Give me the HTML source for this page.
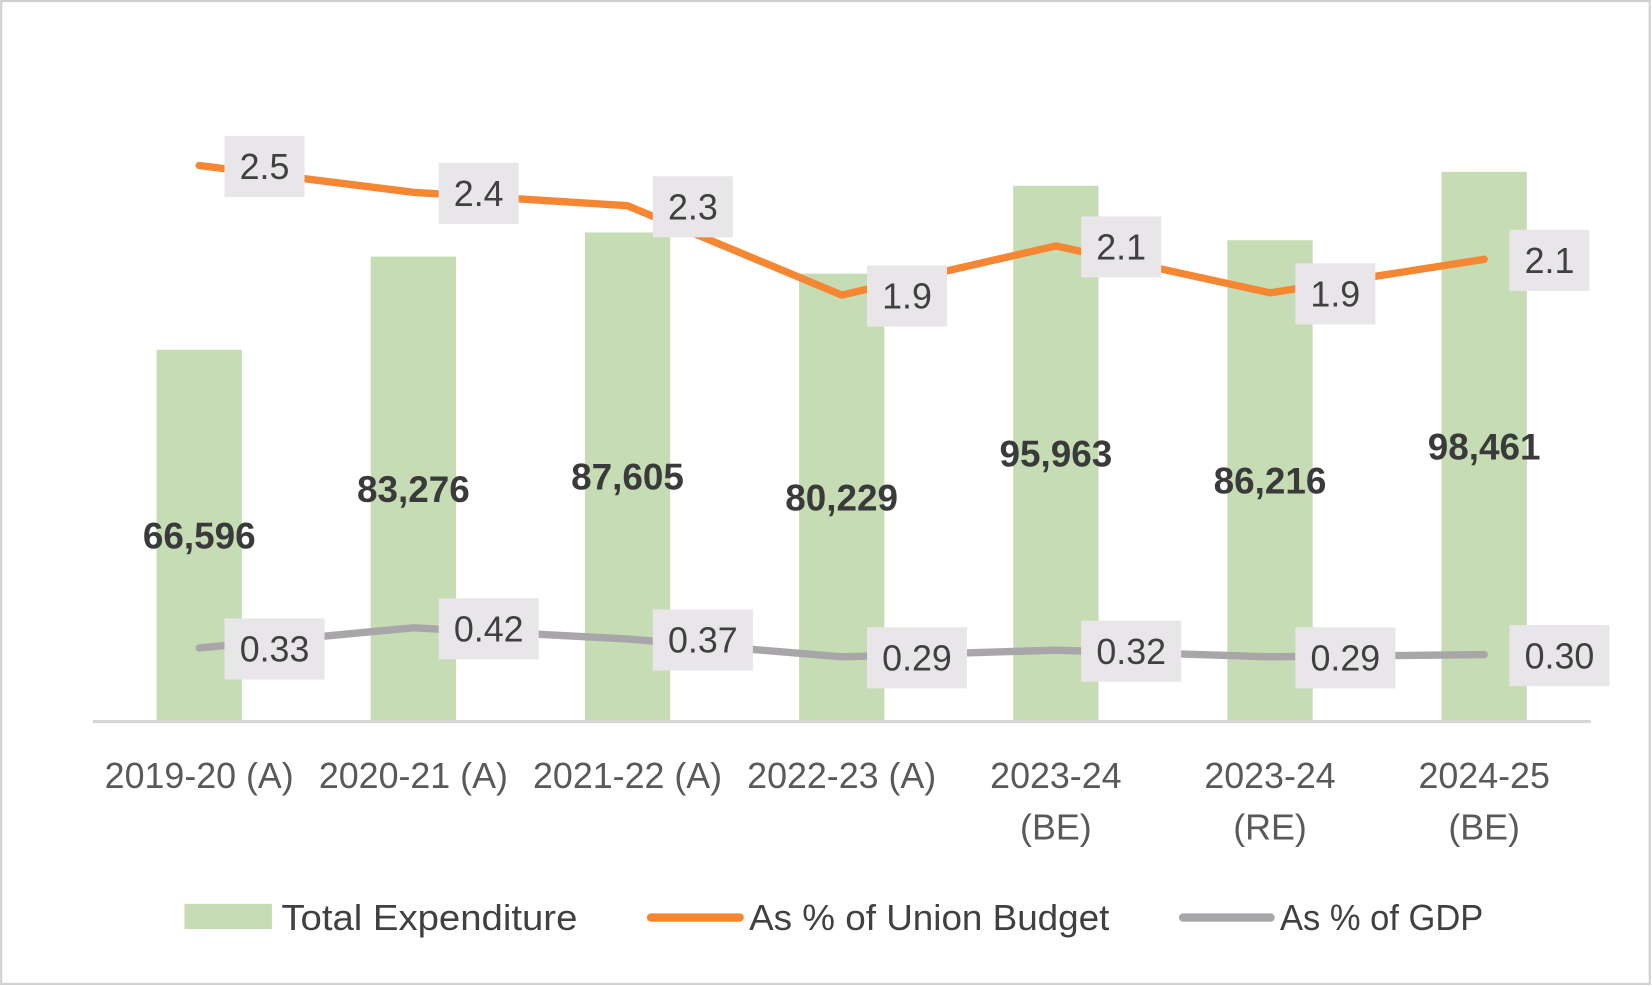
<!DOCTYPE html>
<html><head><meta charset="utf-8"><style>
html,body{margin:0;padding:0;background:#fff;}
svg{display:block;font-family:"Liberation Sans",sans-serif;}
</style></head><body>
<svg id="chart" width="1652" height="986" viewBox="0 0 1568 936" xmlns="http://www.w3.org/2000/svg">
<rect x="1" y="1" width="1565" height="933" fill="#fff" stroke="#d0d0d0" stroke-width="2"/>
<g id="bars"></g><g id="lines"></g><g id="labels"></g><g id="xlabels"></g>
<line x1="88" y1="685" x2="1510" y2="685" stroke="#d6d6d6" stroke-width="3"/>
<g font-size="34" fill="#404040">
<rect x="175" y="858" width="83" height="24" fill="#c5dcb4"/>
<text x="267" y="883" fill="#404040" textLength="281" lengthAdjust="spacingAndGlyphs">Total Expenditure</text>
<line x1="618" y1="871" x2="702" y2="871" stroke="#f58632" stroke-width="8" stroke-linecap="round"/>
<text x="711" y="883" fill="#404040" textLength="342" lengthAdjust="spacingAndGlyphs">As % of Union Budget</text>
<line x1="1123" y1="871" x2="1206" y2="871" stroke="#a9a6aa" stroke-width="8" stroke-linecap="round"/>
<text x="1215" y="883" fill="#404040" textLength="193" lengthAdjust="spacingAndGlyphs">As % of GDP</text>
</g>
</svg>
<script>
const categories = [["2019-20 (A)"],["2020-21 (A)"],["2021-22 (A)"],["2022-23 (A)"],["2023-24","(BE)"],["2023-24","(RE)"],["2024-25","(BE)"]];
const totalExpenditure = [66596, 83276, 87605, 80229, 95963, 86216, 98461];
const unionBudgetPct = [2.49, 2.37, 2.31, 1.91, 2.13, 1.92, 2.07];
const gdpPct = [0.33, 0.42, 0.37, 0.29, 0.32, 0.29, 0.30];

const NS = "http://www.w3.org/2000/svg";
const x0 = 189, step = 203.3, base = 685;
const xPos = i => x0 + i * step;
const yBar = v => base - v * 0.0053;
const yPct = v => base - v * 212;
function mk(tag, attrs, parent){const e=document.createElementNS(NS,tag);for(const k in attrs)e.setAttribute(k,attrs[k]);document.getElementById(parent).appendChild(e);return e;}

totalExpenditure.forEach((v,i)=>{
  const r = mk('rect',{x:xPos(i)-40.5,y:yBar(v),width:81,height:base-yBar(v),fill:'#c5dcb4'},'bars');
  
  
  const t = mk('text',{x:xPos(i),y:(yBar(v)+base)/2+12,'text-anchor':'middle','font-size':35,'font-weight':'bold',fill:'#3a3a3a'},'labels');
  t.textContent = v.toLocaleString('en-US');
  
  
});
function line(vals,color,name){
  const p = mk('polyline',{points:vals.map((v,i)=>xPos(i)+','+yPct(v)).join(' '),fill:'none',stroke:color,'stroke-width':7,'stroke-linecap':'round','stroke-linejoin':'round'},'lines');
  
  
}
line(unionBudgetPct,'#f58632','line-union-budget');
line(gdpPct,'#a9a6aa','line-gdp');
function labels(vals,dec,w,name){
  vals.forEach((v,i)=>{
    const cx = xPos(i)+62+(w-76)/2, cy = yPct(v)+1;
    const r = mk('rect',{x:cx-w/2,y:cy-29,width:w,height:58,fill:'#e9e6ea'},'labels');
    
    
    const t = mk('text',{x:cx,y:cy+12,'text-anchor':'middle','font-size':34,fill:'#404040'},'labels');
    t.textContent = v.toFixed(dec);
    
    
  });
}
labels(unionBudgetPct,1,76,'union-budget-label');
labels(gdpPct,2,95,'gdp-label');
categories.forEach((c,i)=>{
  c.forEach((s,j)=>{
    const t = mk('text',{x:xPos(i),y:748+j*49,'text-anchor':'middle','font-size':34,fill:'#595959'},'xlabels');
    t.textContent = s;
    
    
  });
});
</script>
</body></html>
